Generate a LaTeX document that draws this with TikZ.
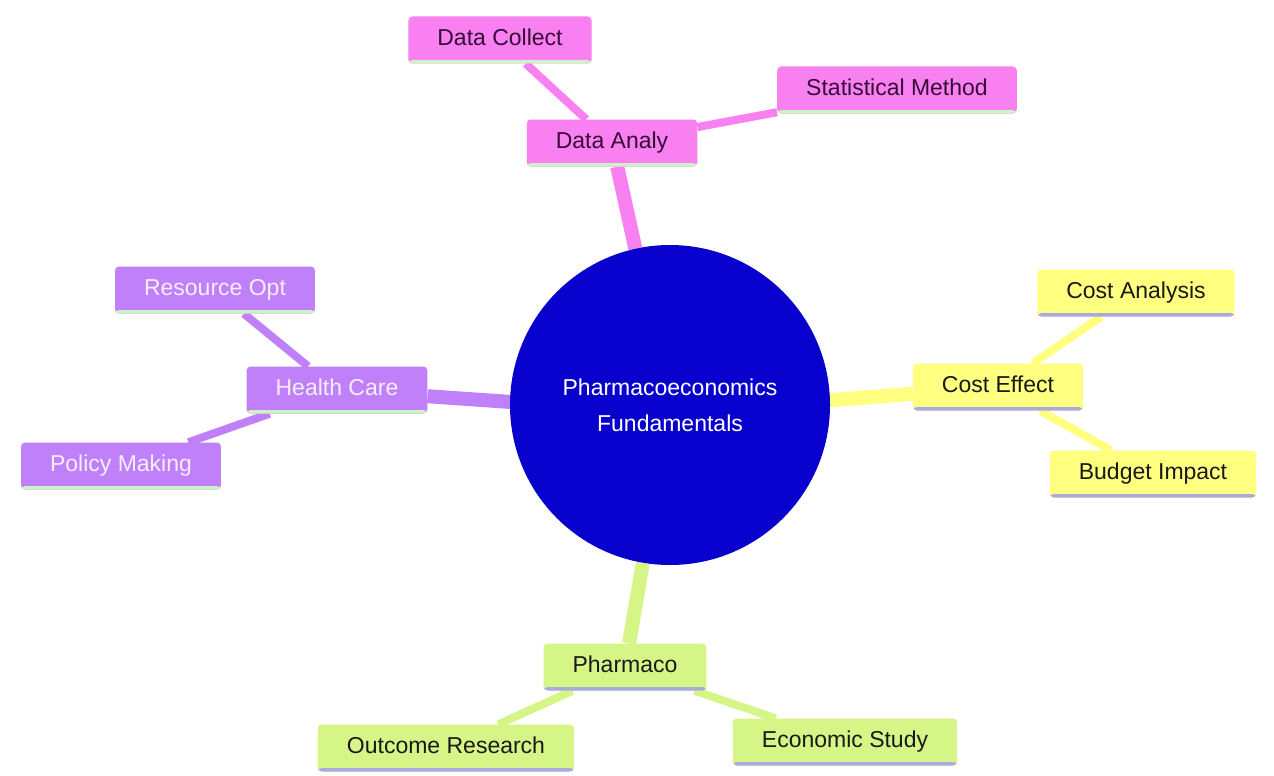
\documentclass[tikz,border=0pt]{standalone}
\usepackage{fontspec}
\setmainfont{Liberation Sans}
\usetikzlibrary{backgrounds}
\definecolor{pinkc}{RGB}{249,128,240}
\definecolor{pinktext}{RGB}{55,10,55}
\definecolor{purplec}{RGB}{191,128,250}
\definecolor{purpletext}{RGB}{246,238,255}
\definecolor{yellowc}{RGB}{255,255,128}
\definecolor{greenc}{RGB}{214,245,135}
\definecolor{darktext}{RGB}{25,25,25}
\definecolor{lavline}{RGB}{170,170,225}
\definecolor{grline}{RGB}{205,242,195}
\definecolor{rootblue}{RGB}{8,0,204}
\begin{document}
\begin{tikzpicture}[x=1pt,y=-1pt,
  box/.style={rounded corners=4pt, minimum height=47pt, inner xsep=29pt, inner ysep=0pt,
    font=\fontsize{23}{27}\selectfont, text height=16.5pt, text depth=5pt},
  uline/.style={path picture={\fill[#1] ([yshift=3.5pt]path picture bounding box.south west) rectangle (path picture bounding box.south east);}},
  pinkbox/.style={box, fill=pinkc, text=pinktext, uline=grline},
  purplebox/.style={box, fill=purplec, text=purpletext, uline=grline},
  yellowbox/.style={box, fill=yellowc, text=darktext, uline=lavline},
  greenbox/.style={box, fill=greenc, text=darktext, uline=lavline},
  rootnode/.style={circle, minimum size=320pt, inner sep=0pt, fill=rootblue, text=white, align=center,
    font=\fontsize{23}{36}\selectfont},
  mainedge/.style={line width=14pt, #1},
  subedge/.style={line width=8pt, #1}]
\useasboundingbox (0,0) rectangle (1274,776);
\node[rootnode] (root) at (670,405) {Pharmacoeconomics\\Fundamentals};
\node[pinkbox] (da) at (612,143) {Data Analy};
\node[pinkbox] (dc) at (500,40) {Data Collect};
\node[pinkbox] (sm) at (897,90) {Statistical Method};
\node[yellowbox] (ce) at (998,387) {Cost Effect};
\node[yellowbox] (ca) at (1136,293) {Cost Analysis};
\node[yellowbox] (bi) at (1153,474) {Budget Impact};
\node[purplebox] (hc) at (337,390) {Health Care};
\node[purplebox] (ro) at (215,290) {Resource Opt};
\node[purplebox] (pm) at (121,466) {Policy Making};
\node[greenbox] (ph) at (625,667) {Pharmaco};
\node[greenbox] (or) at (446,748) {Outcome Research};
\node[greenbox] (es) at (845,742) {Economic Study};
\begin{scope}[on background layer]
  \fill[white] (0,0) rectangle (1274,776);
  \draw[mainedge=pinkc] (root) -- (da);
  \draw[subedge=pinkc] (da) -- (dc);
  \draw[subedge=pinkc] (da) -- (sm);
  \draw[mainedge=yellowc] ([yshift=-8pt]root.center) -- (ce);
  \draw[subedge=yellowc] (ce) -- (ca);
  \draw[subedge=yellowc] (ce) -- (bi);
  \draw[mainedge=purplec] ([yshift=-8pt]root.center) -- (hc);
  \draw[subedge=purplec] (hc) -- (ro);
  \draw[subedge=purplec] (hc) -- (pm);
  \draw[mainedge=greenc] (root) -- (ph);
  \draw[subedge=greenc] (ph) -- (or);
  \draw[subedge=greenc] (ph) -- (es);
\end{scope}
\end{tikzpicture}
\end{document}
